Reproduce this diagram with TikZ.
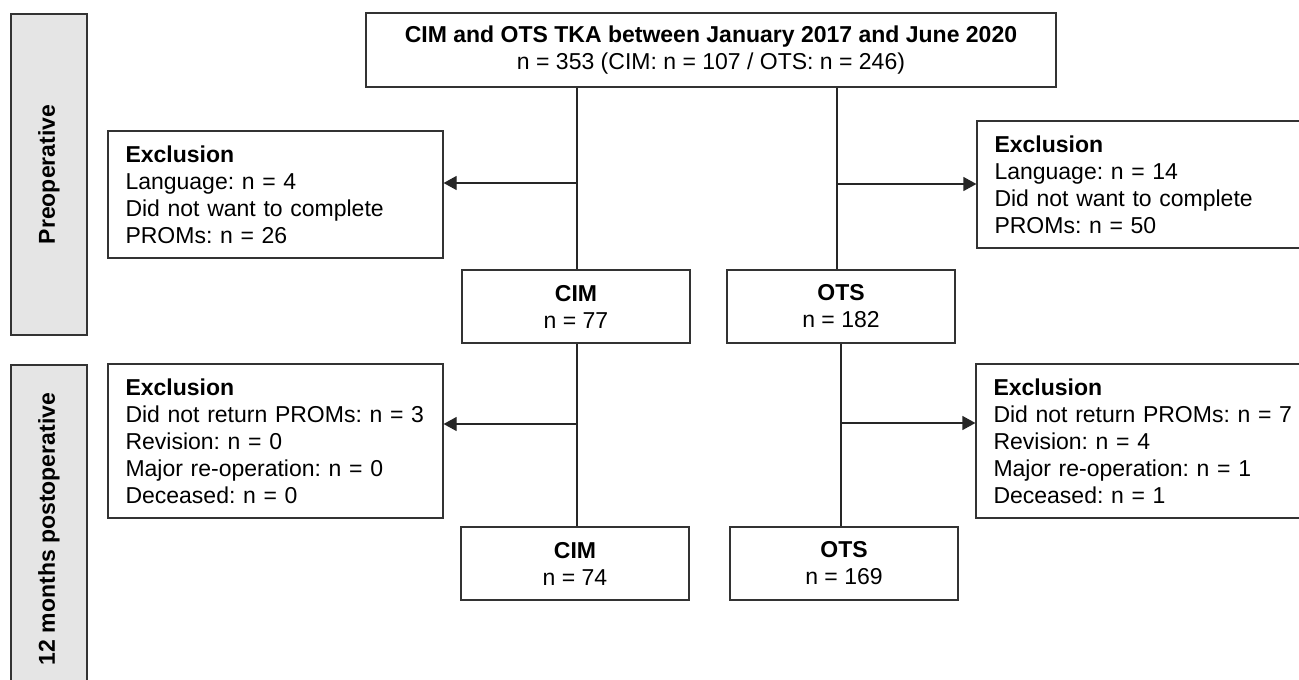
\documentclass[tikz,border=0pt]{standalone}
\usepackage{fontspec}
\setmainfont{Liberation Sans}
\usetikzlibrary{arrows.meta,positioning}
\frenchspacing

\begin{document}
\begin{tikzpicture}[x=1pt,y=-1pt,
	every node/.style={font=\fontsize{23}{27}\selectfont},
	box/.style={draw=black!80, line width=1.2pt, inner sep=0pt, align=center, minimum width=228pt, minimum height=73pt},
	exclbox/.style={draw=black!80, line width=1.2pt, align=left, inner xsep=17.5pt, inner ysep=0pt, text width=300pt},
	phase/.style={draw=black!80, line width=1.2pt, fill=black!10, inner sep=0pt, minimum height=76pt, rotate=90, font=\fontsize{23}{27}\selectfont\bfseries},
	link/.style={line width=1.2pt, black!85},
	arr/.style={link, -{Triangle[length=13pt,width=14pt]}}]
	\useasboundingbox (0,0) rectangle (1299,680);
	\clip (0,0) rectangle (1299,680);
	% Phase bars
	\node[phase, minimum width=321pt] (pre) at (49,174.5) {Preoperative};
	\node[phase, minimum width=328pt] (post) at (49,529) {12 months postoperative};
	% Top box
	\node[box, minimum width=690pt, minimum height=74pt] (tka) at (711,50) {\textbf{CIM and OTS TKA between January 2017 and June 2020}\\ n = 353 (CIM: n = 107 / OTS: n = 246)};
	% Preoperative
	\node[exclbox, minimum height=127pt] (exclpre1) at (275.5,194.5) {\textbf{Exclusion}\\ Language: n = 4\\ Did not want to complete\\ PROMs: n = 26};
	\node[exclbox, minimum height=127pt] (exclpre2) at (1144.5,184.5) {\textbf{Exclusion}\\ Language: n = 14\\ Did not want to complete\\ PROMs: n = 50};
	\node[box] (cim1) at (576,306.5) {\textbf{CIM}\\ n = 77};
	\node[box] (ots1) at (841,306.5) {\textbf{OTS}\\ n = 182};
	% 12 months postoperative
	\node[exclbox, minimum height=154pt] (exclpost1) at (275.5,441) {\textbf{Exclusion}\\ Did not return PROMs: n = 3\\ Revision: n = 0\\ Major re-operation: n = 0\\ Deceased: n = 0};
	\node[exclbox, minimum height=154pt] (exclpost2) at (1143.5,441) {\textbf{Exclusion}\\ Did not return PROMs: n = 7\\ Revision: n = 4\\ Major re-operation: n = 1\\ Deceased: n = 1};
	\node[box] (cim2) at (575,563.5) {\textbf{CIM}\\ n = 74};
	\node[box] (ots2) at (844,563.5) {\textbf{OTS}\\ n = 169};
	% Branch points
	\coordinate (cimpre) at (577,183);
	\coordinate (otspre) at (837,184);
	\coordinate (cimpost) at (577,424);
	\coordinate (otspost) at (841,423);
	% Connectors
	\draw[link] (tka.south -| cimpre) -- (cim1.north -| cimpre);
	\draw[arr] (cimpre) -- (exclpre1.east |- cimpre);
	\draw[link] (tka.south -| otspre) -- (ots1.north -| otspre);
	\draw[arr] (otspre) -- (exclpre2.west |- otspre);
	\draw[link] (cim1.south -| cimpost) -- (cim2.north -| cimpost);
	\draw[arr] (cimpost) -- (exclpost1.east |- cimpost);
	\draw[link] (ots1.south -| otspost) -- (ots2.north -| otspost);
	\draw[arr] (otspost) -- (exclpost2.west |- otspost);
\end{tikzpicture}
\end{document}
